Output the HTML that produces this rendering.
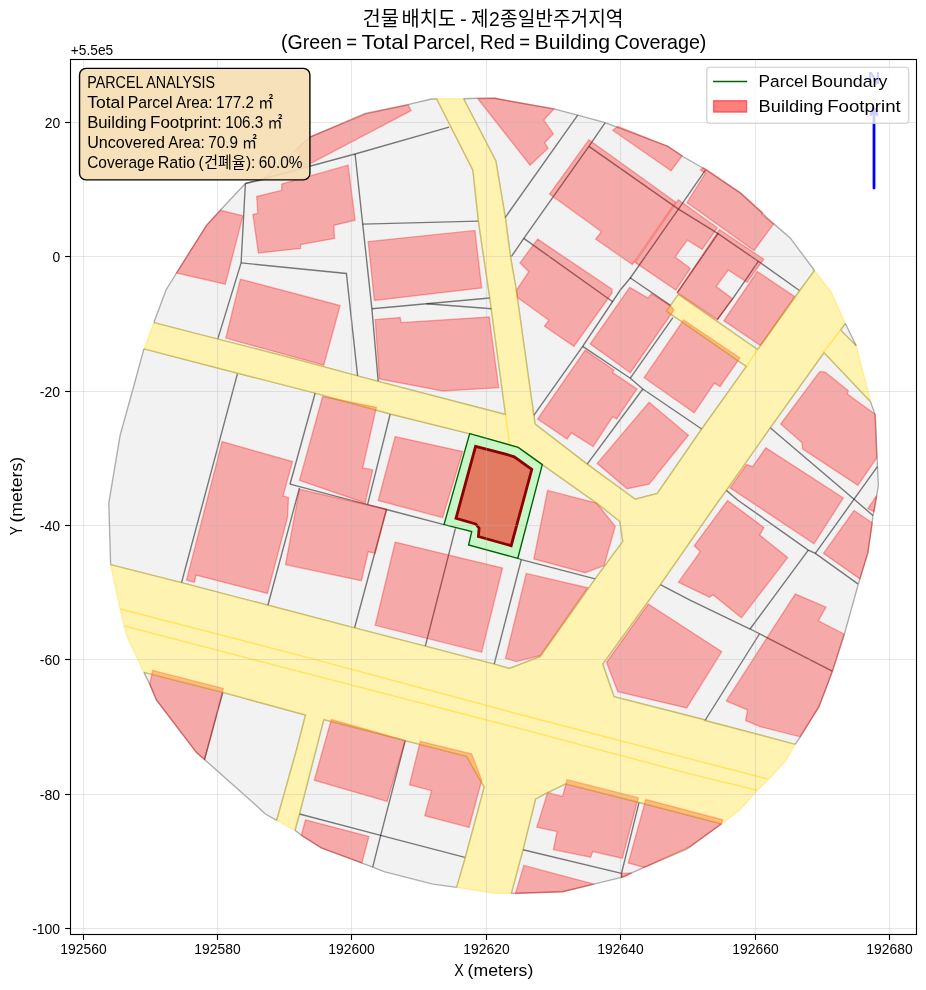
<!DOCTYPE html>
<html lang="ko"><head><meta charset="utf-8"><title>건물 배치도</title>
<style>html,body{margin:0;padding:0;background:#fff}body{width:926px;height:990px;overflow:hidden;font-family:"Liberation Sans",sans-serif}svg{display:block;will-change:transform}</style></head>
<body>
<svg width="926" height="990" viewBox="0 0 926 990" role="img" aria-label="건물 배치도 - 제2종일반주거지역">
<title>건물 배치도 - 제2종일반주거지역 (Green = Total Parcel, Red = Building Coverage)</title>
<rect width="926" height="990" fill="#fff"/>
<defs><clipPath id="ax"><rect x="70.5" y="59.5" width="846.0" height="875.0"/></clipPath></defs>
<g clip-path="url(#ax)" stroke-linejoin="miter" stroke-miterlimit="4">
<polygon points="436.6,98.8 472.9,170.2 478.4,221.1 489.7,297.5 505.5,414.5 378.2,381.4 357.6,375.9 290.0,357.6 153.9,322.6 153.9,322.6 166.0,290.0 176.5,273.0 206.5,225.4 220.3,210.3 245.4,183.5 262.9,179.8 309.9,137.1 365.2,113.4 407.8,104.6 430.3,99.3 436.6,98.8" fill="#f2f2f2"/>
<polygon points="463.6,98.8 495.9,161.0 505.5,218.3 510.5,256.7 516.3,290.0 533.8,415.3 535.1,424.0 587.2,464.1 635.3,499.2 657.3,493.4 701.7,429.0 746.4,366.4 666.5,311.0 678.4,294.4 757.6,349.6 800.2,290.0 814.5,270.5 814.5,270.5 790.2,237.9 772.7,222.9 740.1,192.8 705.4,169.5 682.9,156.5 667.9,146.4 605.2,122.6 577.7,115.1 553.9,108.9 500.0,99.3 495.4,98.3 476.7,98.3 463.6,98.8" fill="#f2f2f2"/>
<polygon points="795.2,744.3 705.0,720.5 705.4,720.0 614.0,696.7 602.7,664.1 660.3,584.7 719.2,500.0 726.3,490.4 770.2,427.8 824.0,352.6 870.4,401.5 870.4,401.5 875.4,415.3 877.4,465.4 878.4,485.4 875.4,503.0 872.9,516.3 867.9,552.6 858.4,583.9 844.1,635.3 832.3,671.6 819.0,706.7 800.2,736.8 795.2,744.3" fill="#f2f2f2"/>
<polygon points="143.9,348.9 315.1,393.2 390.2,414.0 469.1,433.6 518.2,447.4 542.3,464.6 596.5,503.0 619.8,521.3 622.8,541.3 595.2,578.9 540.1,656.6 509.5,668.4 494.2,664.1 425.3,646.1 354.6,627.8 181.5,582.7 110.6,564.6 110.6,564.6 108.8,503.0 120.1,435.3 132.6,390.2 143.9,348.9" fill="#f2f2f2"/>
<polygon points="143.9,672.4 222.8,692.4 305.5,715.0 297.0,748.0 276.7,820.3 276.7,820.3 265.4,814.0 250.4,800.2 204.5,759.6 196.5,752.6 156.4,700.0 149.7,684.1 143.9,672.4" fill="#f2f2f2"/>
<polygon points="295.0,830.3 299.5,814.0 323.8,719.5 405.2,740.6 466.6,756.4 484.2,787.2 465.4,857.3 456.6,887.4 456.6,887.4 432.8,884.1 384.0,871.6 372.7,867.1 361.4,862.9 321.3,847.8 301.3,835.3 295.0,830.3" fill="#f2f2f2"/>
<polygon points="511.3,893.4 523.0,849.8 535.6,799.0 547.6,792.7 565.6,783.9 637.3,802.0 721.5,823.8 721.5,823.8 686.7,849.1 644.1,867.4 621.5,877.4 594.0,884.1 562.6,891.7 511.3,893.4" fill="#f2f2f2"/>
<polygon points="856.2,345.7 840.5,330.0 845.4,323.5 845.4,323.5 856.2,345.7" fill="#f2f2f2"/>
<polyline points="436.6,98.8 472.9,170.2 478.4,221.1 489.7,297.5 505.5,414.5 378.2,381.4 357.6,375.9 290.0,357.6 153.9,322.6" fill="none" stroke="#000" stroke-opacity=".3" stroke-width="1.39"/>
<polyline points="153.9,322.6 166.0,290.0 176.5,273.0 206.5,225.4 220.3,210.3 245.4,183.5 262.9,179.8 309.9,137.1 365.2,113.4 407.8,104.6 430.3,99.3 436.6,98.8" fill="none" stroke="#000" stroke-opacity=".3" stroke-width="1.39"/>
<polyline points="463.6,98.8 495.9,161.0 505.5,218.3 510.5,256.7 516.3,290.0 533.8,415.3 535.1,424.0 587.2,464.1 635.3,499.2 657.3,493.4 701.7,429.0 746.4,366.4 666.5,311.0 678.4,294.4 757.6,349.6 800.2,290.0 814.5,270.5" fill="none" stroke="#000" stroke-opacity=".3" stroke-width="1.39"/>
<polyline points="814.5,270.5 790.2,237.9 772.7,222.9 740.1,192.8 705.4,169.5 682.9,156.5 667.9,146.4 605.2,122.6 577.7,115.1 553.9,108.9 500.0,99.3 495.4,98.3 476.7,98.3 463.6,98.8" fill="none" stroke="#000" stroke-opacity=".3" stroke-width="1.39"/>
<polyline points="795.2,744.3 705.0,720.5 705.4,720.0 614.0,696.7 602.7,664.1 660.3,584.7 719.2,500.0 726.3,490.4 770.2,427.8 824.0,352.6 870.4,401.5" fill="none" stroke="#000" stroke-opacity=".3" stroke-width="1.39"/>
<polyline points="870.4,401.5 875.4,415.3 877.4,465.4 878.4,485.4 875.4,503.0 872.9,516.3 867.9,552.6 858.4,583.9 844.1,635.3 832.3,671.6 819.0,706.7 800.2,736.8 795.2,744.3" fill="none" stroke="#000" stroke-opacity=".3" stroke-width="1.39"/>
<polyline points="143.9,348.9 315.1,393.2 390.2,414.0 469.1,433.6 518.2,447.4 542.3,464.6 596.5,503.0 619.8,521.3 622.8,541.3 595.2,578.9 540.1,656.6 509.5,668.4 494.2,664.1 425.3,646.1 354.6,627.8 181.5,582.7 110.6,564.6" fill="none" stroke="#000" stroke-opacity=".3" stroke-width="1.39"/>
<polyline points="110.6,564.6 108.8,503.0 120.1,435.3 132.6,390.2 143.9,348.9" fill="none" stroke="#000" stroke-opacity=".3" stroke-width="1.39"/>
<polyline points="143.9,672.4 222.8,692.4 305.5,715.0 297.0,748.0 276.7,820.3" fill="none" stroke="#000" stroke-opacity=".3" stroke-width="1.39"/>
<polyline points="276.7,820.3 265.4,814.0 250.4,800.2 204.5,759.6 196.5,752.6 156.4,700.0 149.7,684.1 143.9,672.4" fill="none" stroke="#000" stroke-opacity=".3" stroke-width="1.39"/>
<polyline points="295.0,830.3 299.5,814.0 323.8,719.5 405.2,740.6 466.6,756.4 484.2,787.2 465.4,857.3 456.6,887.4" fill="none" stroke="#000" stroke-opacity=".3" stroke-width="1.39"/>
<polyline points="456.6,887.4 432.8,884.1 384.0,871.6 372.7,867.1 361.4,862.9 321.3,847.8 301.3,835.3 295.0,830.3" fill="none" stroke="#000" stroke-opacity=".3" stroke-width="1.39"/>
<polyline points="511.3,893.4 523.0,849.8 535.6,799.0 547.6,792.7 565.6,783.9 637.3,802.0 721.5,823.8" fill="none" stroke="#000" stroke-opacity=".3" stroke-width="1.39"/>
<polyline points="721.5,823.8 686.7,849.1 644.1,867.4 621.5,877.4 594.0,884.1 562.6,891.7 511.3,893.4" fill="none" stroke="#000" stroke-opacity=".3" stroke-width="1.39"/>
<polyline points="856.2,345.7 840.5,330.0 845.4,323.5" fill="none" stroke="#000" stroke-opacity=".3" stroke-width="1.39"/>
<polyline points="845.4,323.5 856.2,345.7" fill="none" stroke="#000" stroke-opacity=".3" stroke-width="1.39"/>
<polyline points="245.4,183.5 241.1,262.9 217.8,338.9" fill="none" stroke="#000" stroke-opacity=".51" stroke-width="1.39"/>
<polyline points="241.1,262.9 346.4,273.5 357.6,375.9" fill="none" stroke="#000" stroke-opacity=".51" stroke-width="1.39"/>
<polyline points="245.4,183.5 355.1,154.0 449.1,127.1" fill="none" stroke="#000" stroke-opacity=".51" stroke-width="1.39"/>
<polyline points="355.1,154.0 362.7,224.1 371.9,308.8 378.2,381.4" fill="none" stroke="#000" stroke-opacity=".51" stroke-width="1.39"/>
<polyline points="362.7,224.1 478.4,221.1" fill="none" stroke="#000" stroke-opacity=".51" stroke-width="1.39"/>
<polyline points="371.9,308.8 489.7,298.0" fill="none" stroke="#000" stroke-opacity=".51" stroke-width="1.39"/>
<polyline points="426.5,303.8 491.7,308.8" fill="none" stroke="#000" stroke-opacity=".51" stroke-width="1.39"/>
<polyline points="577.7,115.1 505.0,217.8" fill="none" stroke="#000" stroke-opacity=".51" stroke-width="1.39"/>
<polyline points="605.2,122.6 588.9,146.4 523.8,238.4 511.3,256.7" fill="none" stroke="#000" stroke-opacity=".51" stroke-width="1.39"/>
<polyline points="523.8,238.4 612.7,301.8" fill="none" stroke="#000" stroke-opacity=".51" stroke-width="1.39"/>
<polyline points="588.9,146.4 678.4,209.1 717.3,233.2 758.3,261.3 799.4,290.5" fill="none" stroke="#000" stroke-opacity=".51" stroke-width="1.39"/>
<polyline points="705.4,170.2 678.4,209.1 630.3,278.0 620.3,290.0 582.7,346.4 533.8,415.3" fill="none" stroke="#000" stroke-opacity=".51" stroke-width="1.39"/>
<polyline points="718.4,233.2 677.3,292.7" fill="none" stroke="#000" stroke-opacity=".51" stroke-width="1.39"/>
<polyline points="758.3,261.3 744.3,281.9 732.4,299.2 717.3,319.7" fill="none" stroke="#000" stroke-opacity=".51" stroke-width="1.39"/>
<polyline points="629.7,277.5 670.8,305.6" fill="none" stroke="#000" stroke-opacity=".51" stroke-width="1.39"/>
<polyline points="672.9,317.6 630.3,378.2" fill="none" stroke="#000" stroke-opacity=".51" stroke-width="1.39"/>
<polyline points="582.7,346.4 630.3,378.2 642.8,389.0 701.7,429.0" fill="none" stroke="#000" stroke-opacity=".51" stroke-width="1.39"/>
<polyline points="642.8,389.0 587.2,464.1" fill="none" stroke="#000" stroke-opacity=".51" stroke-width="1.39"/>
<polyline points="770.2,427.8 854.1,499.2 872.9,515.5" fill="none" stroke="#000" stroke-opacity=".51" stroke-width="1.39"/>
<polyline points="877.4,466.6 854.1,499.2 815.3,553.4" fill="none" stroke="#000" stroke-opacity=".51" stroke-width="1.39"/>
<polyline points="726.3,490.4 737.6,500.0 808.3,550.1 815.3,553.4 857.9,583.9" fill="none" stroke="#000" stroke-opacity=".51" stroke-width="1.39"/>
<polyline points="808.3,550.1 750.1,629.0" fill="none" stroke="#000" stroke-opacity=".51" stroke-width="1.39"/>
<polyline points="660.3,584.7 690.0,600.2 750.1,629.0 766.4,637.3 832.3,671.1" fill="none" stroke="#000" stroke-opacity=".51" stroke-width="1.39"/>
<polyline points="759.4,634.0 705.0,720.5" fill="none" stroke="#000" stroke-opacity=".51" stroke-width="1.39"/>
<polyline points="237.4,373.9 181.5,582.7" fill="none" stroke="#000" stroke-opacity=".51" stroke-width="1.39"/>
<polyline points="315.1,393.2 290.0,484.2" fill="none" stroke="#000" stroke-opacity=".51" stroke-width="1.39"/>
<polyline points="299.5,487.9 267.9,605.2" fill="none" stroke="#000" stroke-opacity=".51" stroke-width="1.39"/>
<polyline points="390.2,414.0 367.7,504.2" fill="none" stroke="#000" stroke-opacity=".51" stroke-width="1.39"/>
<polyline points="290.0,484.2 367.7,504.7 386.5,509.5 444.0,524.6" fill="none" stroke="#000" stroke-opacity=".51" stroke-width="1.39"/>
<polyline points="386.5,509.5 354.6,627.8" fill="none" stroke="#000" stroke-opacity=".51" stroke-width="1.39"/>
<polyline points="455.4,528.3 425.3,646.1" fill="none" stroke="#000" stroke-opacity=".51" stroke-width="1.39"/>
<polyline points="517.5,558.1 521.3,559.6 595.2,578.9" fill="none" stroke="#000" stroke-opacity=".51" stroke-width="1.39"/>
<polyline points="521.3,559.6 494.2,664.1" fill="none" stroke="#000" stroke-opacity=".51" stroke-width="1.39"/>
<polyline points="222.8,692.4 204.5,759.6" fill="none" stroke="#000" stroke-opacity=".51" stroke-width="1.39"/>
<polyline points="299.5,814.0 380.7,835.3 464.9,857.3" fill="none" stroke="#000" stroke-opacity=".51" stroke-width="1.39"/>
<polyline points="405.2,740.6 380.7,835.3 372.7,867.1" fill="none" stroke="#000" stroke-opacity=".51" stroke-width="1.39"/>
<polyline points="523.0,849.8 621.5,873.4" fill="none" stroke="#000" stroke-opacity=".51" stroke-width="1.39"/>
<polyline points="639.0,802.7 621.5,873.4 621.5,877.4" fill="none" stroke="#000" stroke-opacity=".51" stroke-width="1.39"/>
<g fill="#f00" fill-opacity=".3" stroke="#f00" stroke-opacity=".3" stroke-width="1.39">
<polygon points="220.3,210.3 242.9,215.8 225.3,284.2 176.5,273.0 206.5,225.4"/>
<polygon points="256.7,196.5 281.7,190.3 281.7,184.0 348.1,165.2 355.1,220.3 333.8,225.4 334.6,238.4 300.5,244.6 300.5,248.4 258.4,252.9 252.9,214.6 257.9,213.3"/>
<polygon points="408.2,104.7 411.0,110.7 303.4,167.3 297.0,148.7 309.9,137.1 366.1,113.8"/>
<polygon points="368.2,241.6 474.9,230.4 481.7,288.0 374.4,300.5"/>
<polygon points="240.4,279.2 340.1,305.5 323.8,365.2 225.8,338.1"/>
<polygon points="477.9,98.8 495.4,98.3 500.0,99.3 553.9,108.9 543.8,120.1 553.4,133.9 544.6,142.7 548.1,148.2 530.1,165.2"/>
<polygon points="588.9,139.7 675.7,202.2 632.4,264.5 595.7,239.1 601.5,231.6 549.6,194.0"/>
<polygon points="678.4,199.7 717.3,227.8 702.1,249.4 687.4,240.1 675.1,257.0 690.3,268.5 675.8,290.1 635.1,262.4"/>
<polygon points="719.4,229.5 763.7,259.2 747.1,282.3 728.1,270.0 716.2,286.6 732.4,298.7 717.3,319.7 677.3,292.7"/>
<polygon points="700.4,169.9 703.2,167.7 706.5,169.5 741.1,193.2 762.7,212.7 761.6,214.4 773.5,224.1 754.0,250.5 687.0,202.5 705.4,173.3"/>
<polygon points="612.7,130.2 617.8,126.4 667.9,146.4 682.1,156.0 671.1,170.7"/>
<polygon points="757.3,271.5 794.7,296.6 760.5,345.6 723.8,320.8"/>
<polygon points="629.7,287.3 648.1,298.1 651.3,293.7 670.8,306.1 674.0,310.0 630.3,372.7 590.2,343.9"/>
<polygon points="683.6,320.0 739.8,357.9 720.1,386.5 714.3,383.2 694.2,412.8 644.1,377.7"/>
<polygon points="537.6,239.1 612.0,289.2 612.0,293.0 573.9,346.4 544.6,326.3 548.9,320.1 517.5,297.5 516.3,290.5 528.8,271.7 520.0,262.9"/>
<polygon points="585.2,350.1 614.0,370.2 612.7,372.7 637.0,389.0 616.5,419.0 612.7,416.5 593.2,446.6 571.4,432.8 567.1,439.1 537.6,419.0"/>
<polygon points="649.1,402.2 688.4,435.3 649.1,484.2 627.0,488.7 597.2,463.4"/>
<polygon points="820.3,371.4 825.3,372.2 848.3,390.7 847.3,394.0 874.9,414.0 876.7,457.9 857.9,485.4 802.7,449.1 802.0,442.8 780.7,424.0 818.3,373.4"/>
<polygon points="765.9,447.8 843.3,497.9 814.0,543.8 730.1,487.9 746.4,464.6 752.6,466.6"/>
<polygon points="727.6,500.5 763.9,527.6 759.7,535.1 787.7,557.6 741.4,617.8 713.0,594.7 709.5,597.2 678.4,582.2 700.4,551.4 694.2,545.8"/>
<polygon points="876.7,495.4 874.1,511.7 867.9,508.5"/>
<polygon points="854.1,510.5 872.4,523.0 867.9,552.6 859.9,578.9 823.5,553.4"/>
<polygon points="795.2,594.0 826.0,607.2 818.3,620.8 844.1,634.0 832.3,671.6 819.0,706.7 800.2,736.8 760.2,726.7 745.6,720.5 747.6,710.0 726.3,700.9"/>
<polygon points="648.3,604.0 721.7,651.6 686.7,707.9 617.8,691.7 606.5,662.3"/>
<polygon points="547.6,490.4 596.5,503.0 615.2,526.3 604.0,565.6 585.2,572.7 533.8,558.9"/>
<polygon points="526.3,573.4 587.7,587.7 540.1,655.8 516.3,661.6 505.5,658.3"/>
<polygon points="395.2,542.1 502.5,568.1 481.7,652.1 375.2,625.3"/>
<polygon points="395.2,436.6 462.6,451.6 442.6,517.6 378.2,500.5"/>
<polygon points="322.6,396.5 376.4,407.3 362.7,467.9 372.7,469.9 365.2,503.0 299.5,480.4"/>
<polygon points="299.5,489.2 386.5,509.2 375.2,553.1 368.2,551.9 361.4,580.7 285.5,564.6"/>
<polygon points="222.1,441.6 292.5,461.6 283.0,495.9 288.5,497.4 287.5,517.5 267.4,593.5 196.0,575.2 194.5,582.2 186.5,580.2"/>
<polygon points="375.2,319.6 400.2,317.6 401.0,322.6 489.2,317.1 498.7,387.7 442.8,391.0 379.4,378.9"/>
<polygon points="152.7,670.4 223.3,688.4 204.5,759.6 196.5,752.6 156.4,700.0 149.7,684.1"/>
<polygon points="331.3,719.5 405.2,740.6 387.2,801.5 314.3,780.2"/>
<polygon points="420.3,741.3 471.6,753.9 481.7,780.2 469.1,827.3 424.8,815.7 431.6,790.7 409.5,784.7"/>
<polygon points="305.5,819.8 368.9,836.5 361.9,862.9 321.3,847.8 301.3,835.3"/>
<polygon points="567.1,779.7 638.3,797.7 622.3,858.3 592.7,851.6 590.7,857.3 553.4,849.6 557.1,831.5 536.8,827.3 547.6,792.7 562.6,796.5"/>
<polygon points="645.8,799.5 722.6,819.8 721.3,824.0 690.0,846.6 644.1,867.4 628.3,862.9"/>
<polygon points="523.8,865.4 594.0,884.1 562.6,891.7 515.5,893.4"/>
<polygon points="621.5,873.4 631.5,872.9 625.3,876.6 621.5,877.4"/>
</g>
<path d="M430.3 99.3L436.6 98.8L463.6 98.8L476.7 98.3L495.4 98.3L500.0 99.3L553.9 108.9L577.7 115.1L605.2 122.6L667.9 146.4L682.9 156.5L705.4 169.5L740.1 192.8L772.7 222.9L790.2 237.9L814.5 270.5L831.3 292.2L845.4 323.5L856.2 345.7L870.4 400.2L875.4 415.3L877.4 465.4L878.4 485.4L875.4 503.0L872.9 516.3L867.9 552.6L858.4 583.9L844.1 635.3L832.3 671.6L819.0 706.7L800.2 736.8L795.2 744.3L785.2 761.4L767.7 780.2L756.4 791.4L740.1 809.7L721.3 824.0L690.0 846.6L644.1 867.4L621.5 877.4L594.0 884.1L562.6 891.7L511.3 893.4L510.5 893.4L495.4 893.4L456.6 887.4L432.8 884.1L384.0 871.6L372.7 867.1L361.4 862.9L321.3 847.8L301.3 835.3L295.0 830.3L276.7 820.3L265.4 814.0L250.4 800.2L204.5 759.6L196.5 752.6L156.4 700.0L149.7 684.1L143.9 672.4L127.6 637.8L123.9 625.3L120.1 609.0L110.6 564.6L108.8 503.0L120.1 435.3L132.6 390.2L143.9 348.9L153.9 322.6L166.0 290.0L176.5 273.0L206.5 225.4L220.3 210.3L245.4 183.5L262.9 179.8L309.9 137.1L365.2 113.4L407.8 104.6ZM436.6 98.8L472.9 170.2L478.4 221.1L489.7 297.5L505.5 414.5L378.2 381.4L357.6 375.9L290.0 357.6L153.9 322.6L153.9 322.6L166.0 290.0L176.5 273.0L206.5 225.4L220.3 210.3L245.4 183.5L262.9 179.8L309.9 137.1L365.2 113.4L407.8 104.6L430.3 99.3L436.6 98.8ZM463.6 98.8L495.9 161.0L505.5 218.3L510.5 256.7L516.3 290.0L533.8 415.3L535.1 424.0L587.2 464.1L635.3 499.2L657.3 493.4L701.7 429.0L746.4 366.4L666.5 311.0L678.4 294.4L757.6 349.6L800.2 290.0L814.5 270.5L814.5 270.5L790.2 237.9L772.7 222.9L740.1 192.8L705.4 169.5L682.9 156.5L667.9 146.4L605.2 122.6L577.7 115.1L553.9 108.9L500.0 99.3L495.4 98.3L476.7 98.3L463.6 98.8ZM795.2 744.3L705.0 720.5L705.4 720.0L614.0 696.7L602.7 664.1L660.3 584.7L719.2 500.0L726.3 490.4L770.2 427.8L824.0 352.6L870.4 401.5L870.4 401.5L875.4 415.3L877.4 465.4L878.4 485.4L875.4 503.0L872.9 516.3L867.9 552.6L858.4 583.9L844.1 635.3L832.3 671.6L819.0 706.7L800.2 736.8L795.2 744.3ZM143.9 348.9L315.1 393.2L390.2 414.0L469.1 433.6L518.2 447.4L542.3 464.6L596.5 503.0L619.8 521.3L622.8 541.3L595.2 578.9L540.1 656.6L509.5 668.4L494.2 664.1L425.3 646.1L354.6 627.8L181.5 582.7L110.6 564.6L110.6 564.6L108.8 503.0L120.1 435.3L132.6 390.2L143.9 348.9ZM143.9 672.4L222.8 692.4L305.5 715.0L297.0 748.0L276.7 820.3L276.7 820.3L265.4 814.0L250.4 800.2L204.5 759.6L196.5 752.6L156.4 700.0L149.7 684.1L143.9 672.4ZM295.0 830.3L299.5 814.0L323.8 719.5L405.2 740.6L466.6 756.4L484.2 787.2L465.4 857.3L456.6 887.4L456.6 887.4L432.8 884.1L384.0 871.6L372.7 867.1L361.4 862.9L321.3 847.8L301.3 835.3L295.0 830.3ZM511.3 893.4L523.0 849.8L535.6 799.0L547.6 792.7L565.6 783.9L637.3 802.0L721.5 823.8L721.5 823.8L686.7 849.1L644.1 867.4L621.5 877.4L594.0 884.1L562.6 891.7L511.3 893.4ZM856.2 345.7L840.5 330.0L845.4 323.5L845.4 323.5L856.2 345.7Z" fill="rgb(255,215,0)" fill-opacity=".3" fill-rule="evenodd"/>
<g fill="none" stroke="rgb(255,215,0)" stroke-opacity=".3" stroke-width="1.39">
<polyline points="436.6,98.8 472.9,170.2 478.4,221.1 489.7,297.5 505.5,414.5 378.2,381.4 357.6,375.9 290.0,357.6 153.9,322.6"/>
<polyline points="463.6,98.8 495.9,161.0 505.5,218.3 510.5,256.7 516.3,290.0 533.8,415.3 535.1,424.0 587.2,464.1 635.3,499.2 657.3,493.4 701.7,429.0 746.4,366.4 666.5,311.0 678.4,294.4 757.6,349.6 800.2,290.0 814.5,270.5"/>
<polyline points="795.2,744.3 705.0,720.5 705.4,720.0 614.0,696.7 602.7,664.1 660.3,584.7 719.2,500.0 726.3,490.4 770.2,427.8 824.0,352.6 870.4,401.5"/>
<polyline points="143.9,348.9 315.1,393.2 390.2,414.0 469.1,433.6 518.2,447.4 542.3,464.6 596.5,503.0 619.8,521.3 622.8,541.3 595.2,578.9 540.1,656.6 509.5,668.4 494.2,664.1 425.3,646.1 354.6,627.8 181.5,582.7 110.6,564.6"/>
<polyline points="143.9,672.4 222.8,692.4 305.5,715.0 297.0,748.0 276.7,820.3"/>
<polyline points="295.0,830.3 299.5,814.0 323.8,719.5 405.2,740.6 466.6,756.4 484.2,787.2 465.4,857.3 456.6,887.4"/>
<polyline points="511.3,893.4 523.0,849.8 535.6,799.0 547.6,792.7 565.6,783.9 637.3,802.0 721.5,823.8"/>
<polyline points="856.2,345.7 840.5,330.0 845.4,323.5"/>
<polyline points="436.6,98.8 463.6,98.8"/>
<polyline points="814.5,270.5 831.3,292.2 845.4,323.5"/>
<polyline points="856.2,345.7 870.4,400.2"/>
<polyline points="795.2,744.3 785.2,761.4 767.7,780.2 756.4,791.4 740.1,809.7 721.3,824.0"/>
<polyline points="511.3,893.4 510.5,893.4 495.4,893.4 456.6,887.4"/>
<polyline points="295.0,830.3 276.7,820.3"/>
<polyline points="143.9,672.4 127.6,637.8 123.9,625.3 120.1,609.0 110.6,564.6"/>
<polyline points="143.9,348.9 153.9,322.6"/>
</g>
<polyline points="120.1,609.0 290.0,652.8 522.0,715.0 690.0,758.9 767.7,778.9" fill="none" stroke="rgb(255,215,0)" stroke-opacity=".51" stroke-width="1.39"/>
<polyline points="123.9,625.8 290.0,669.1 522.0,729.2 690.0,773.9 757.1,790.2" fill="none" stroke="rgb(255,215,0)" stroke-opacity=".51" stroke-width="1.39"/>
<polyline points="505.5,414.5 509.7,445.0" fill="none" stroke="rgb(255,215,0)" stroke-opacity=".51" stroke-width="1.39"/>
<polyline points="840.5,330.0 823.2,352.7" fill="none" stroke="rgb(255,215,0)" stroke-opacity=".51" stroke-width="1.39"/>
<polyline points="757.6,349.6 746.4,366.4" fill="none" stroke="rgb(255,215,0)" stroke-opacity=".51" stroke-width="1.39"/>
<polygon points="469.7,433.6 518.2,447.4 542.3,464.6 517.8,558.3 468.6,545.0 471.7,531.6 444.0,524.6" fill="rgb(199,246,199)" stroke="none"/>
<polygon points="475.6,446.3 506.5,454.4 514.2,456.8 531.8,469.4 511.2,545.7 478.4,536.5 479.1,528.1 475.6,523.9 456.0,518.3" fill="#f00" fill-opacity=".5" stroke="#8b0000" stroke-width="2.78"/>
<polygon points="469.7,433.6 518.2,447.4 542.3,464.6 517.8,558.3 468.6,545.0 471.7,531.6 444.0,524.6" fill="none" stroke="#006400" stroke-width="1.39"/>
<g stroke="#b0b0b0" stroke-opacity=".3" stroke-width="1.11">
<line x1="83.5" y1="59.5" x2="83.5" y2="934.5"/>
<line x1="217.5" y1="59.5" x2="217.5" y2="934.5"/>
<line x1="351.5" y1="59.5" x2="351.5" y2="934.5"/>
<line x1="486.5" y1="59.5" x2="486.5" y2="934.5"/>
<line x1="620.5" y1="59.5" x2="620.5" y2="934.5"/>
<line x1="755.5" y1="59.5" x2="755.5" y2="934.5"/>
<line x1="889.5" y1="59.5" x2="889.5" y2="934.5"/>
<line x1="70.5" y1="122.5" x2="916.5" y2="122.5"/>
<line x1="70.5" y1="256.5" x2="916.5" y2="256.5"/>
<line x1="70.5" y1="391.5" x2="916.5" y2="391.5"/>
<line x1="70.5" y1="525.5" x2="916.5" y2="525.5"/>
<line x1="70.5" y1="659.5" x2="916.5" y2="659.5"/>
<line x1="70.5" y1="794.5" x2="916.5" y2="794.5"/>
<line x1="70.5" y1="928.5" x2="916.5" y2="928.5"/>
</g>
<g stroke="#00f" stroke-width="2.78" fill="none" stroke-linecap="round" stroke-linejoin="round"><path d="M874 188V108.5"/><path d="M870.9 114.6L874 108L877.1 114.6"/></g>
<text x="874" y="84" font-family="'Liberation Sans', sans-serif" font-weight="bold" font-size="16.67" fill="#00f" text-anchor="middle">N</text>
</g>
<rect x="706.8" y="67.4" width="201.8" height="56" rx="2.8" fill="#fff" fill-opacity=".8" stroke="#ccc" stroke-opacity=".8" stroke-width="1.39"/>
<line x1="713" y1="81.5" x2="747.2" y2="81.5" stroke="#006400" stroke-width="1.39"/>
<rect x="713.6" y="100.7" width="33" height="11.4" fill="#f00" fill-opacity=".5" stroke="#f00" stroke-opacity=".5" stroke-width="1.39"/>
<text y="86.90" font-family="'Liberation Sans', sans-serif" font-size="17.17" ><tspan x="758.60" textLength="48.88" lengthAdjust="spacingAndGlyphs">Parcel</tspan> <tspan x="811.21" textLength="76.22" lengthAdjust="spacingAndGlyphs">Boundary</tspan></text>
<text y="111.70" font-family="'Liberation Sans', sans-serif" font-size="17.17" ><tspan x="758.60" textLength="64.88" lengthAdjust="spacingAndGlyphs">Building</tspan> <tspan x="827.21" textLength="73.53" lengthAdjust="spacingAndGlyphs">Footprint</tspan></text>
<rect x="79.55" y="68.4" width="230.35" height="111.5" rx="6.5" fill="rgb(245,222,179)" fill-opacity=".9" stroke="#000" stroke-width="1.39"/>
<g fill="#000">
<text y="88.30" font-family="'Liberation Sans', sans-serif" font-size="15.74" ><tspan x="87.20" textLength="55.71" lengthAdjust="spacingAndGlyphs">PARCEL</tspan> <tspan x="146.33" textLength="68.73" lengthAdjust="spacingAndGlyphs">ANALYSIS</tspan></text>
<text y="108.17" font-family="'Liberation Sans', sans-serif" font-size="15.74" ><tspan x="87.20" textLength="37.12" lengthAdjust="spacingAndGlyphs">Total</tspan> <tspan x="127.74" textLength="44.80" lengthAdjust="spacingAndGlyphs">Parcel</tspan> <tspan x="175.96" textLength="36.53" lengthAdjust="spacingAndGlyphs">Area:</tspan> <tspan x="215.92" textLength="38.17" lengthAdjust="spacingAndGlyphs">177.2</tspan></text>
<text x="258.3" y="108.17" font-family="'Liberation Sans', 'Noto Sans CJK KR', sans-serif" font-size="15.74" textLength="15" lengthAdjust="spacingAndGlyphs">㎡</text>
<text y="128.04" font-family="'Liberation Sans', sans-serif" font-size="15.74" ><tspan x="87.20" textLength="59.47" lengthAdjust="spacingAndGlyphs">Building</tspan> <tspan x="150.09" textLength="71.65" lengthAdjust="spacingAndGlyphs">Footprint:</tspan> <tspan x="225.16" textLength="38.17" lengthAdjust="spacingAndGlyphs">106.3</tspan></text>
<text x="267.5" y="128.04" font-family="'Liberation Sans', 'Noto Sans CJK KR', sans-serif" font-size="15.74" textLength="15" lengthAdjust="spacingAndGlyphs">㎡</text>
<text y="147.91" font-family="'Liberation Sans', sans-serif" font-size="15.74" ><tspan x="87.20" textLength="77.68" lengthAdjust="spacingAndGlyphs">Uncovered</tspan> <tspan x="168.31" textLength="36.53" lengthAdjust="spacingAndGlyphs">Area:</tspan> <tspan x="208.26" textLength="29.69" lengthAdjust="spacingAndGlyphs">70.9</tspan></text>
<text x="242.1" y="147.91" font-family="'Liberation Sans', 'Noto Sans CJK KR', sans-serif" font-size="15.74" textLength="15" lengthAdjust="spacingAndGlyphs">㎡</text>
<text y="167.78" font-family="'Liberation Sans', 'Noto Sans CJK KR', sans-serif" font-size="15.74" ><tspan x="87.20" textLength="67.05" lengthAdjust="spacingAndGlyphs">Coverage</tspan> <tspan x="157.67" textLength="37.53" lengthAdjust="spacingAndGlyphs">Ratio</tspan> <tspan x="198.62" textLength="5.16" lengthAdjust="spacingAndGlyphs">(</tspan><tspan x="204.2" textLength="41.5" lengthAdjust="spacingAndGlyphs">건폐율</tspan><tspan x="245.96" textLength="9.41" lengthAdjust="spacingAndGlyphs">):</tspan> <tspan x="258.79" textLength="43.76" lengthAdjust="spacingAndGlyphs">60.0%</tspan></text>
</g>
<rect x="70.5" y="59.5" width="846.0" height="875.0" fill="none" stroke="#000" stroke-width="1.11"/>
<g stroke="#000" stroke-width="1.11">
<line x1="83.5" y1="934.5" x2="83.5" y2="939.9"/>
<line x1="217.5" y1="934.5" x2="217.5" y2="939.9"/>
<line x1="351.5" y1="934.5" x2="351.5" y2="939.9"/>
<line x1="486.5" y1="934.5" x2="486.5" y2="939.9"/>
<line x1="620.5" y1="934.5" x2="620.5" y2="939.9"/>
<line x1="755.5" y1="934.5" x2="755.5" y2="939.9"/>
<line x1="889.5" y1="934.5" x2="889.5" y2="939.9"/>
<line x1="65.1" y1="122.5" x2="70.5" y2="122.5"/>
<line x1="65.1" y1="256.5" x2="70.5" y2="256.5"/>
<line x1="65.1" y1="391.5" x2="70.5" y2="391.5"/>
<line x1="65.1" y1="525.5" x2="70.5" y2="525.5"/>
<line x1="65.1" y1="659.5" x2="70.5" y2="659.5"/>
<line x1="65.1" y1="794.5" x2="70.5" y2="794.5"/>
<line x1="65.1" y1="928.5" x2="70.5" y2="928.5"/>
</g>
<text y="954.10" font-family="'Liberation Sans', sans-serif" font-size="14.31" ><tspan x="60.37" textLength="46.25" lengthAdjust="spacingAndGlyphs">192560</tspan></text>
<text y="954.10" font-family="'Liberation Sans', sans-serif" font-size="14.31" ><tspan x="194.37" textLength="46.25" lengthAdjust="spacingAndGlyphs">192580</tspan></text>
<text y="954.10" font-family="'Liberation Sans', sans-serif" font-size="14.31" ><tspan x="328.37" textLength="46.25" lengthAdjust="spacingAndGlyphs">192600</tspan></text>
<text y="954.10" font-family="'Liberation Sans', sans-serif" font-size="14.31" ><tspan x="463.37" textLength="46.25" lengthAdjust="spacingAndGlyphs">192620</tspan></text>
<text y="954.10" font-family="'Liberation Sans', sans-serif" font-size="14.31" ><tspan x="597.37" textLength="46.25" lengthAdjust="spacingAndGlyphs">192640</tspan></text>
<text y="954.10" font-family="'Liberation Sans', sans-serif" font-size="14.31" ><tspan x="732.37" textLength="46.25" lengthAdjust="spacingAndGlyphs">192660</tspan></text>
<text y="954.10" font-family="'Liberation Sans', sans-serif" font-size="14.31" ><tspan x="866.37" textLength="46.25" lengthAdjust="spacingAndGlyphs">192680</tspan></text>
<text y="127.50" font-family="'Liberation Sans', sans-serif" font-size="14.31" ><tspan x="44.68" textLength="15.42" lengthAdjust="spacingAndGlyphs">20</tspan></text>
<text y="261.50" font-family="'Liberation Sans', sans-serif" font-size="14.31" ><tspan x="52.39" textLength="7.71" lengthAdjust="spacingAndGlyphs">0</tspan></text>
<text y="396.50" font-family="'Liberation Sans', sans-serif" font-size="14.31" ><tspan x="39.86" textLength="20.24" lengthAdjust="spacingAndGlyphs">-20</tspan></text>
<text y="530.50" font-family="'Liberation Sans', sans-serif" font-size="14.31" ><tspan x="39.86" textLength="20.24" lengthAdjust="spacingAndGlyphs">-40</tspan></text>
<text y="664.50" font-family="'Liberation Sans', sans-serif" font-size="14.31" ><tspan x="39.86" textLength="20.24" lengthAdjust="spacingAndGlyphs">-60</tspan></text>
<text y="799.50" font-family="'Liberation Sans', sans-serif" font-size="14.31" ><tspan x="39.86" textLength="20.24" lengthAdjust="spacingAndGlyphs">-80</tspan></text>
<text y="933.50" font-family="'Liberation Sans', sans-serif" font-size="14.31" ><tspan x="32.15" textLength="27.95" lengthAdjust="spacingAndGlyphs">-100</tspan></text>
<text y="54.90" font-family="'Liberation Sans', sans-serif" font-size="14.31" ><tspan x="70.80" textLength="42.39" lengthAdjust="spacingAndGlyphs">+5.5e5</tspan></text>
<text y="975.70" font-family="'Liberation Sans', sans-serif" font-size="17.17" ><tspan x="454.30" textLength="9.55" lengthAdjust="spacingAndGlyphs">X</tspan> <tspan x="467.59" textLength="65.73" lengthAdjust="spacingAndGlyphs">(meters)</tspan></text>
<g transform="translate(22.3,535.2) rotate(-90)"><text y="0.00" font-family="'Liberation Sans', sans-serif" font-size="17.17" ><tspan x="0.00" textLength="8.85" lengthAdjust="spacingAndGlyphs">Y</tspan> <tspan x="12.59" textLength="65.73" lengthAdjust="spacingAndGlyphs">(meters)</tspan></text></g>
<g fill="#000"><text y="26.00" font-family="'Liberation Sans', 'Noto Sans CJK KR', sans-serif" font-size="20.02" ><tspan x="362.50" textLength="36.5" lengthAdjust="spacingAndGlyphs">건물</tspan> <tspan x="401.50" textLength="54.5" lengthAdjust="spacingAndGlyphs">배치도</tspan> <tspan x="460.03" textLength="6.75" lengthAdjust="spacingAndGlyphs">-</tspan> <tspan x="471.00" textLength="17.5" lengthAdjust="spacingAndGlyphs">제</tspan><tspan x="489.02" textLength="10.79" lengthAdjust="spacingAndGlyphs">2</tspan><tspan x="500.00" textLength="123.5" lengthAdjust="spacingAndGlyphs">종일반주거지역</tspan></text></g>
<text y="49.30" font-family="'Liberation Sans', sans-serif" font-size="20.02" ><tspan x="281.10" textLength="60.91" lengthAdjust="spacingAndGlyphs">(Green</tspan> <tspan x="346.36" textLength="10.79" lengthAdjust="spacingAndGlyphs">=</tspan> <tspan x="361.50" textLength="47.22" lengthAdjust="spacingAndGlyphs">Total</tspan> <tspan x="413.08" textLength="62.40" lengthAdjust="spacingAndGlyphs">Parcel,</tspan> <tspan x="479.84" textLength="35.17" lengthAdjust="spacingAndGlyphs">Red</tspan> <tspan x="519.36" textLength="10.79" lengthAdjust="spacingAndGlyphs">=</tspan> <tspan x="534.50" textLength="75.66" lengthAdjust="spacingAndGlyphs">Building</tspan> <tspan x="614.52" textLength="91.87" lengthAdjust="spacingAndGlyphs">Coverage)</tspan></text>
</svg>
</body></html>
